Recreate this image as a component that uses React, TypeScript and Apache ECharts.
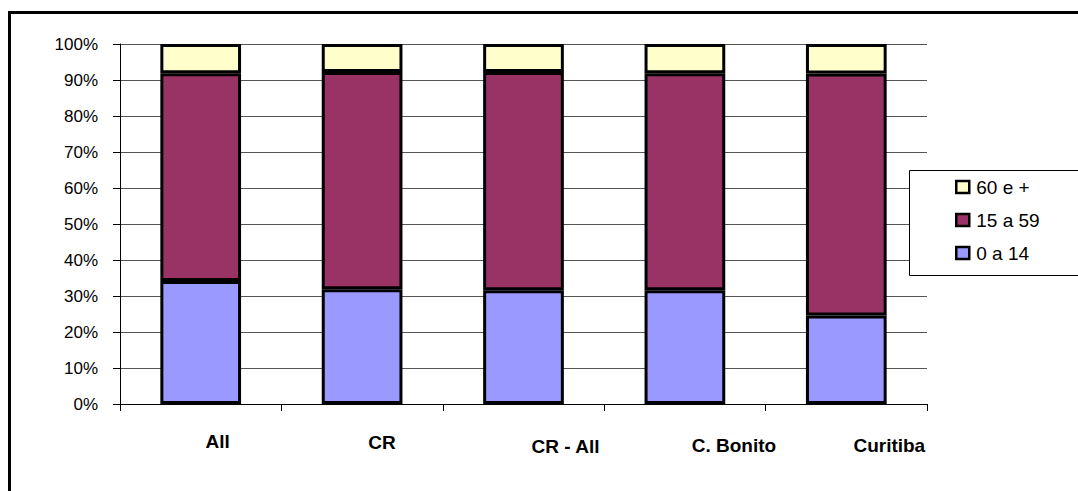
import React, { useEffect, useRef } from "react";
import * as echarts from "echarts";

// Population share by age group (percent of total)
const categories = ["All", "CR", "CR - All", "C. Bonito", "Curitiba"];
const age0to14 = [34.2, 31.9, 31.6, 31.6, 24.6];
const age15to59 = [57.7, 60.3, 60.6, 60.3, 67.2];
const age60plus = [8.1, 7.8, 7.8, 8.1, 8.2];
const yTicks = [0, 10, 20, 30, 40, 50, 60, 70, 80, 90, 100];

// Per-label nudges for the staggered category labels (dx, dy in px)
const labelShiftX = [17, 20, 42, 49, 43];
const labelShiftY = [1, 3, 11, 10, 9];

const FONT = "Arial, 'Liberation Sans', Helvetica, sans-serif";

export default function App() {
  const ref = useRef<HTMLDivElement>(null);

  useEffect(() => {
    if (!ref.current) return;
    const chart = echarts.init(ref.current, null, { renderer: "svg" });

    const rich: Record<string, any> = {};
    categories.forEach((_, i) => {
      rich["c" + i] = {
        fontFamily: FONT,
        fontSize: 19,
        fontWeight: "bold",
        color: "#000",
        lineHeight: 19,
        padding: [labelShiftY[i], 0, 0, labelShiftX[i] * 2],
      };
    });

    const barStyle = (color: string) => ({
      color,
      borderColor: "#000",
      borderWidth: 3,
      borderType: "solid",
    });

    chart.setOption({
      animation: false,
      backgroundColor: "#fff",
      textStyle: { fontFamily: FONT },
      grid: { left: 120, right: 151, top: 44, bottom: 87, containLabel: false },
      graphic: [
        {
          type: "rect",
          shape: { x: 9.5, y: 12.5, width: 2000, height: 2000 },
          style: { fill: "none", stroke: "#000", lineWidth: 3 },
          silent: true,
        },
        {
          type: "rect",
          shape: { x: 909.5, y: 170.5, width: 300, height: 105 },
          style: { fill: "#fff", stroke: "#000", lineWidth: 1 },
          silent: true,
          z: 5,
        },
      ],
      legend: {
        orient: "vertical",
        left: 955,
        top: 177,
        z: 10,
        icon: "rect",
        itemWidth: 13,
        itemHeight: 12,
        itemGap: 13,
        padding: 0,
        data: ["60 e +", "15 a 59", "0 a 14"],
        itemStyle: { borderColor: "#000", borderWidth: 2.5 },
        textStyle: {
          fontFamily: FONT,
          fontSize: 19,
          color: "#000",
          lineHeight: 20,
          padding: [0, 0, 0, 2],
        },
      },
      xAxis: {
        type: "category",
        data: categories,
        boundaryGap: true,
        axisLine: { show: true, lineStyle: { color: "#000", width: 1 } },
        axisTick: { show: true, length: 7, lineStyle: { color: "#000" } },
        axisLabel: {
          interval: 0,
          margin: 27,
          formatter: (v: string, i: number) => `{c${i}|${v}}`,
          rich,
        },
        splitLine: { show: false },
      },
      yAxis: {
        type: "value",
        min: yTicks[0],
        max: yTicks[yTicks.length - 1],
        interval: 10,
        axisLine: { show: true, lineStyle: { color: "#000", width: 1 } },
        axisTick: { show: true, length: 7, lineStyle: { color: "#000" } },
        axisLabel: {
          margin: 22,
          fontFamily: FONT,
          fontSize: 17,
          color: "#000",
          formatter: "{value}%",
        },
        splitLine: { show: true, lineStyle: { color: "#555", width: 1.2 } },
      },
      series: [
        {
          name: "0 a 14",
          type: "bar",
          stack: "total",
          barWidth: "50%",
          data: age0to14,
          itemStyle: barStyle("#9999FF"),
        },
        {
          name: "15 a 59",
          type: "bar",
          stack: "total",
          barWidth: "50%",
          data: age15to59,
          itemStyle: barStyle("#993366"),
        },
        {
          name: "60 e +",
          type: "bar",
          stack: "total",
          barWidth: "50%",
          data: age60plus,
          itemStyle: barStyle("#FFFFCC"),
        },
      ],
    });

    return () => chart.dispose();
  }, []);

  return (
    <div
      ref={ref}
      style={{ position: "absolute", left: 0, top: 0, width: 1078, height: 491 }}
    />
  );
}
